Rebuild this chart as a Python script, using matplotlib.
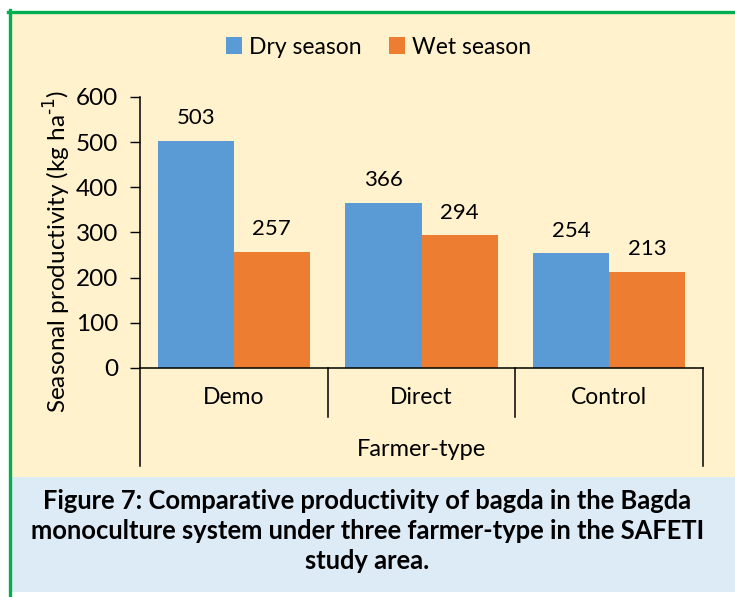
import numpy as np
import matplotlib.pyplot as plt
from matplotlib.patches import Rectangle
from matplotlib.lines import Line2D

plt.rcParams['font.family'] = ['Lato', 'DejaVu Sans']

categories = ['Demo', 'Direct', 'Control']
dry_season = [503, 366, 254]
wet_season = [257, 294, 213]
yticks = [0, 100, 200, 300, 400, 500, 600]

W, H = 735, 597
fig = plt.figure(figsize=(W / 100, H / 100), dpi=100)

def fx(px):
    return px / W

def fy(py):
    return 1 - py / H

# background panels and green frame
fig.patches.append(Rectangle((fx(11), fy(477)), 1 - fx(11), fy(13) - fy(477),
                             transform=fig.transFigure, facecolor='#FFF2CC', edgecolor='none', zorder=-2))
fig.patches.append(Rectangle((fx(11), fy(592)), 1 - fx(11), fy(477) - fy(592),
                             transform=fig.transFigure, facecolor='#DDEBF7', edgecolor='none', zorder=-2))
fig.lines.append(Line2D([fx(8), 1], [fy(11.5), fy(11.5)], transform=fig.transFigure,
                        color='#00B050', lw=2.4, zorder=-1))
fig.lines.append(Line2D([fx(9.5), fx(9.5)], [0, fy(10)], transform=fig.transFigure,
                        color='#00B050', lw=2.4, zorder=-1))

ax = fig.add_axes([fx(140), fy(368), fx(703) - fx(140), fy(97) - fy(368)])
ax.set_facecolor('none')

x = np.arange(len(categories))
bw = 0.405
b1 = ax.bar(x - bw / 2, dry_season, bw, color='#5B9BD5', label='Dry season')
b2 = ax.bar(x + bw / 2, wet_season, bw, color='#ED7D31', label='Wet season')
for bars in (b1, b2):
    for b in bars:
        ax.annotate(str(int(b.get_height())), (b.get_x() + b.get_width() / 2, b.get_height()),
                    xytext=(0, 9), textcoords='offset points', ha='center', va='bottom',
                    fontsize=16, color='black')

ax.set_xlim(-0.5, len(categories) - 0.5)
ax.set_ylim(0, 600)
ax.set_yticks(yticks)
ax.tick_params(axis='y', labelsize=17.5, length=7, width=1, direction='out', pad=8.5)
ax.set_xticks(x)
ax.set_xticklabels(categories)
ax.tick_params(axis='x', length=0, labelsize=16.5, pad=14)
for s in ('top', 'right'):
    ax.spines[s].set_visible(False)
ax.spines['left'].set_linewidth(1.1)
ax.spines['bottom'].set_linewidth(1.1)

# y label placed by hand (Excel-like position)
fig.text(fx(57), fy(251), 'Seasonal productivity (kg ha$^{\\text{-1}}$)', rotation=90,
         ha='center', va='center', fontsize=17.5)

# category group separators below the axis
tr = ax.get_xaxis_transform()
for i, xb in enumerate(np.arange(-0.5, len(categories))):
    low = -0.362 if i in (0, len(categories)) else -0.181
    ax.add_line(Line2D([xb, xb], [0, low], transform=tr, color='black', lw=1.1, clip_on=False))
ax.text(np.mean(x), -0.302, 'Farmer-type', transform=tr, ha='center', va='center', fontsize=17)

fig.legend(handles=[b1, b2], loc='center', bbox_to_anchor=(0.515, fy(47)), ncol=2,
           frameon=False, fontsize=16.5, handlelength=0.7, handleheight=0.7,
           handletextpad=0.3, columnspacing=1.2)

fig.text(0.5, fy(531),
         'Figure 7: Comparative productivity of bagda in the Bagda\n'
         'monoculture system under three farmer-type in the SAFETI\n'
         'study area.',
         ha='center', va='center', fontsize=18.4, fontweight='bold', linespacing=1.3)

fig.savefig('out.png', dpi=100)
